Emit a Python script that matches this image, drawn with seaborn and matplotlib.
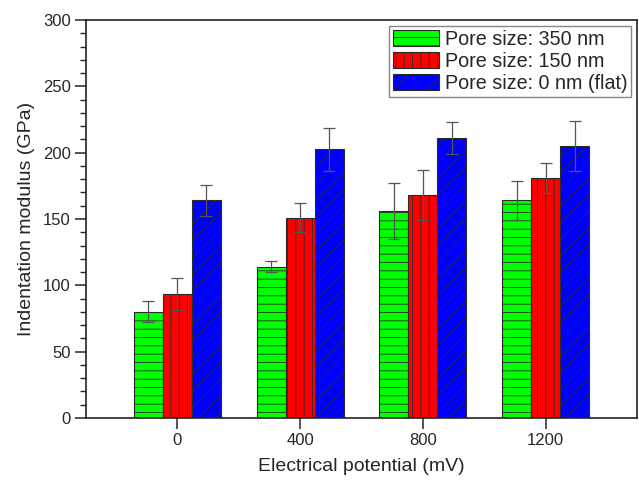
import pandas as pd
import matplotlib
matplotlib.use("Agg")
import matplotlib.pyplot as plt
from matplotlib.ticker import MultipleLocator
import seaborn as sns

# values
potentials = ["0", "400", "800", "1200"]
series = ["Pore size: 350 nm", "Pore size: 150 nm", "Pore size: 0 nm (flat)"]
modulus_350 = [80, 114, 156, 164]
modulus_150 = [93.5, 151, 168, 181]
modulus_flat = [164, 202.5, 211, 205]
err_350 = [8, 4, 21, 15]
err_150 = [12, 11, 19, 11.5]
err_flat = [11.5, 16, 12, 19]

colors = ["#00ff00", "#ff0000", "#0000ff"]
hatches = ["--", "||", "//"]

sns.set_style("ticks")
plt.rcParams["font.family"] = ["Liberation Sans", "DejaVu Sans"]
plt.rcParams["hatch.linewidth"] = 0.6

rows = []
for name, vals in zip(series, [modulus_350, modulus_150, modulus_flat]):
    for p, v in zip(potentials, vals):
        rows.append({"potential": p, "series": name, "modulus": v})
df = pd.DataFrame(rows)

fig = plt.figure(figsize=(6.39, 4.83), dpi=100)
ax = fig.add_axes([0.1346, 0.1346, 0.8623, 0.824])

sns.barplot(data=df, x="potential", y="modulus", hue="series", order=potentials,
            hue_order=series, palette=colors, saturation=1, width=0.71,
            errorbar=None, edgecolor="#2a2a2a", linewidth=0.8, legend=False, ax=ax)

# hatches and error bars per series, positioned from the drawn bars
for cont, h, errs in zip(ax.containers, hatches, [err_350, err_150, err_flat]):
    xs, ys = [], []
    for patch in cont.patches:
        patch.set_hatch(h)
        xs.append(patch.get_x() + patch.get_width() / 2)
        ys.append(patch.get_height())
    ax.errorbar(xs, ys, yerr=errs, fmt="none", ecolor="#555555", elinewidth=0.9,
                capsize=4, capthick=0.9)

ax.set_xlim(-0.745, 3.745)
ax.set_ylim(0, 300)
ax.yaxis.set_major_locator(MultipleLocator(50))
ax.yaxis.set_minor_locator(MultipleLocator(10))
ax.tick_params(axis="both", which="major", length=8, width=1.1, labelsize=12, pad=3)
ax.tick_params(axis="y", which="minor", length=4, width=1)
ax.tick_params(top=False, right=False)
for s in ax.spines.values():
    s.set_visible(True)
    s.set_linewidth(1.2)
    s.set_color("#222222")

ax.set_xlabel("Electrical potential (mV)", fontsize=14, labelpad=7)
ax.set_ylabel("Indentation modulus (GPa)", fontsize=14, labelpad=6)

leg = ax.legend(ax.containers, series, loc="upper right", fontsize=14.2,
                handlelength=2.3, handleheight=0.85, handletextpad=0.3,
                labelspacing=0.15, borderpad=0.2, borderaxespad=0.3,
                fancybox=False, framealpha=1, edgecolor="#888888")
leg.get_frame().set_linewidth(1)

fig.savefig("out.png", dpi=100)
